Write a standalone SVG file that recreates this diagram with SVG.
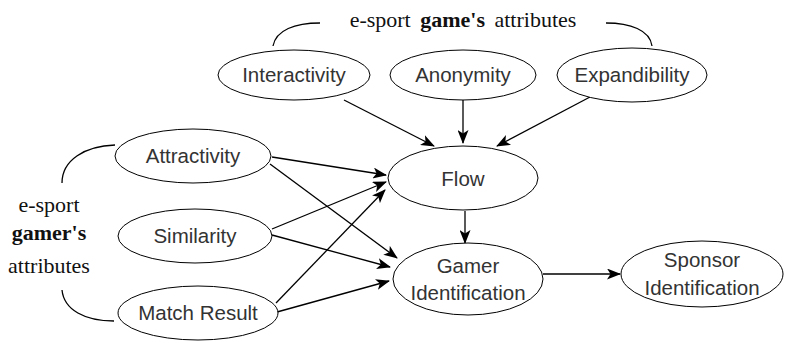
<svg xmlns="http://www.w3.org/2000/svg" width="800" height="343" viewBox="0 0 800 343">
<defs>
<marker id="ar" viewBox="0 0 14 11" refX="13" refY="5.5" markerWidth="14" markerHeight="11" markerUnits="userSpaceOnUse" orient="auto">
<path d="M0,0 L14,5.5 L0,11 L3.5,5.5 Z" fill="#000"/>
</marker>
<style>
.n ellipse{fill:#fff;stroke:#000;stroke-width:1}
.n text{font-family:"Liberation Sans",Arial,sans-serif;font-size:20.5px;fill:#333;text-anchor:middle}
.t{font-family:"Liberation Serif","Times New Roman",serif;font-size:22px;fill:#111;text-anchor:middle}
.c path{fill:none;stroke:#000;stroke-width:1.3}
.e line{stroke:#000;stroke-width:1.3;marker-end:url(#ar)}
</style>
</defs>
<rect width="800" height="343" fill="#fff"/>
<g id="game-label">
<text class="t" x="463" y="27" word-spacing="4">e-sport <tspan font-weight="bold">game's</tspan> attributes</text>
</g>
<g id="gamer-label">
<text class="t" x="49" y="212">e-sport</text>
<text class="t" x="49" y="240" font-weight="bold">gamer's</text>
<text class="t" x="49" y="273">attributes</text>
</g>
<g class="c" id="braces">
<path d="M273,46 C276,30 295,23 320,23"/>
<path d="M606,23 C630,23 650,30 652,46"/>
<path d="M62,183 C62,160 85,146 115,145"/>
<path d="M62,290 C64,310 85,321 114,321"/>
</g>
<g class="e" id="connectors">
<line x1="344" y1="100" x2="434" y2="146"/>
<line x1="463" y1="100" x2="463" y2="143"/>
<line x1="590" y1="97" x2="497" y2="146"/>
<line x1="272" y1="157" x2="386" y2="175"/>
<line x1="270" y1="164" x2="397" y2="258"/>
<line x1="272" y1="229" x2="386" y2="182"/>
<line x1="272" y1="235" x2="390" y2="267"/>
<line x1="276" y1="303" x2="385" y2="190"/>
<line x1="277" y1="312" x2="389" y2="281"/>
<line x1="465" y1="211" x2="465" y2="243"/>
<line x1="543" y1="274" x2="620" y2="274"/>
</g>
<g class="n" id="interactivity"><ellipse cx="294" cy="75" rx="76" ry="25"/><text x="294" y="82">Interactivity</text></g>
<g class="n" id="anonymity"><ellipse cx="463" cy="75" rx="73" ry="25"/><text x="463" y="82">Anonymity</text></g>
<g class="n" id="expandibility"><ellipse cx="632" cy="75" rx="75" ry="27"/><text x="632" y="82">Expandibility</text></g>
<g class="n" id="attractivity"><ellipse cx="193" cy="156" rx="78" ry="27"/><text x="193" y="163">Attractivity</text></g>
<g class="n" id="similarity"><ellipse cx="195" cy="236" rx="77" ry="27"/><text x="195" y="243">Similarity</text></g>
<g class="n" id="match-result"><ellipse cx="198" cy="313" rx="80" ry="27"/><text x="198" y="320">Match Result</text></g>
<g class="n" id="flow"><ellipse cx="463" cy="178" rx="75" ry="32"/><text x="463" y="186">Flow</text></g>
<g class="n" id="gamer-identification"><ellipse cx="468" cy="279" rx="75" ry="36"/><text x="468" y="273">Gamer</text><text x="468" y="300">Identification</text></g>
<g class="n" id="sponsor-identification"><ellipse cx="702" cy="274" rx="81" ry="33"/><text x="702" y="267">Sponsor</text><text x="702" y="295">Identification</text></g>
</svg>
